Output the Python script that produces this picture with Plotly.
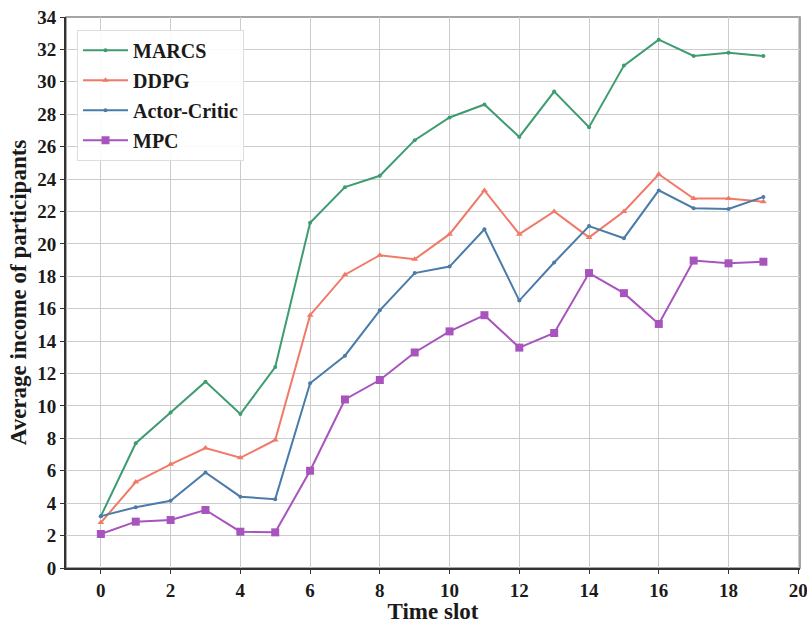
import plotly.graph_objects as go

time_slot = list(range(20))
marcs = [3.2, 7.7, 9.6, 11.5, 9.5, 12.4, 21.3, 23.5, 24.2, 26.4, 27.8, 28.6, 26.6, 29.4, 27.2, 31.0, 32.6, 31.6, 31.8, 31.6]
ddpg = [2.8, 5.3, 6.4, 7.4, 6.8, 7.9, 15.6, 18.1, 19.3, 19.05, 20.6, 23.3, 20.6, 22.0, 20.4, 22.0, 24.3, 22.8, 22.8, 22.6]
actor_critic = [3.2, 3.75, 4.15, 5.9, 4.4, 4.25, 11.4, 13.1, 15.9, 18.2, 18.6, 20.9, 16.5, 18.85, 21.1, 20.35, 23.3, 22.2, 22.15, 22.9]
mpc = [2.1, 2.86, 2.96, 3.58, 2.24, 2.2, 6.0, 10.4, 11.6, 13.3, 14.6, 15.6, 13.6, 14.5, 18.2, 16.96, 15.06, 18.97, 18.8, 18.9]

series = [
    ("MARCS", marcs, "#3f9c70", "circle", 4),
    ("DDPG", ddpg, "#ef7a68", "triangle-up", 6),
    ("Actor-Critic", actor_critic, "#4b7ba8", "circle", 4),
    ("MPC", mpc, "#a754bd", "square", 8),
]

fig = go.Figure()
for name, vals, color, sym, size in series:
    fig.add_trace(go.Scatter(
        x=time_slot, y=vals, name=name, mode="lines+markers", legendgroup=name,
        line=dict(color=color, width=2),
        marker=dict(symbol=sym, size=size, color=color),
    ))

font_family = "Liberation Serif, Times New Roman, serif"
fig.update_layout(
    width=807, height=624,
    margin=dict(l=66, r=7, t=17, b=56),
    plot_bgcolor="white", paper_bgcolor="white",
    font=dict(family=font_family, size=19, color="#1a1a1a"),
    showlegend=True,
    legend=dict(
        x=0.015, y=0.977, xanchor="left", yanchor="top",
        bgcolor="rgba(255,255,255,0.9)", bordercolor="#dddddd", borderwidth=1,
        font=dict(family=font_family, size=20, weight="bold"),
        tracegroupgap=1, itemwidth=45,
    ),
)
fig.update_xaxes(
    range=[-1, 20.05], tickmode="linear", tick0=0, dtick=2,
    showgrid=True, gridcolor="#cccccc", gridwidth=1,
    showline=True, linecolor="#333333", linewidth=2, mirror=False,
    ticks="outside", ticklen=4, tickcolor="#333333",
    tickfont=dict(family=font_family, size=19, weight="bold"),
    ticklabeloverflow="allow", automargin=False,
    title=dict(text="Time slot", font=dict(family=font_family, size=23, weight="bold"), standoff=4),
    zeroline=False,
)
fig.update_yaxes(
    range=[0, 34], tickmode="linear", tick0=0, dtick=2,
    showgrid=True, gridcolor="#cccccc", gridwidth=1,
    showline=True, linecolor="#333333", linewidth=2, mirror=False,
    ticks="outside", ticklen=4, tickcolor="#333333",
    tickfont=dict(family=font_family, size=19, weight="bold"),
    ticklabeloverflow="allow", automargin=False,
    title=dict(text="Average income of participants", font=dict(family=font_family, size=23, weight="bold"), standoff=4),
    zeroline=False,
)
# gray top/right frame
fig.add_shape(type="rect", xref="paper", yref="paper", x0=0, y0=0, x1=1, y1=1,
              line=dict(color="#888888", width=1.5), layer="below")

fig.write_html("out.html")
